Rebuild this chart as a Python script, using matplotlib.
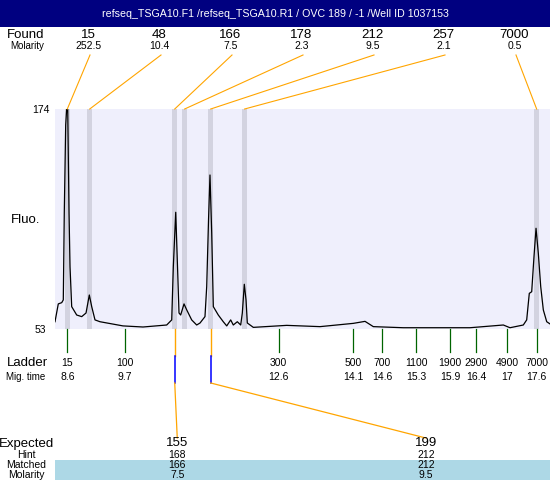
import matplotlib
matplotlib.use('Agg')
import matplotlib.pyplot as plt
from matplotlib.patches import Rectangle

plt.rcParams['font.family'] = ['Liberation Sans', 'DejaVu Sans']

title = 'refseq_TSGA10.F1 /refseq_TSGA10.R1 / OVC 189 / -1 /Well ID 1037153'

# Found peaks (size, molarity, migration time)
found_size = [15, 48, 166, 178, 212, 257, 7000]
found_molarity = [252.5, 10.4, 7.5, 2.3, 9.5, 2.1, 0.5]
found_time = [8.60, 9.03, 10.66, 10.85, 11.35, 12.00, 17.60]

# Ladder
ladder_size = [15, 100, 300, 500, 700, 1100, 1900, 2900, 4900, 7000]
ladder_time = [8.60, 9.70, 12.65, 14.08, 14.64, 15.29, 15.94, 16.44, 17.04, 17.60]
ladder_time_label = ['8.6', '9.7', '12.6', '14.1', '14.6', '15.3', '15.9', '16.4', '17', '17.6']

# Expected / matched table
expected = [155, 199]
hint = [168, 212]
matched = [166, 212]
matched_molarity = [7.5, 9.5]

# Electropherogram trace
trace_time = [8.364, 8.427, 8.493, 8.523, 8.542, 8.569, 8.588, 8.608, 8.633, 8.652,
              8.684, 8.780, 8.876, 8.959, 9.022, 9.068, 9.131, 9.227, 9.668, 10.052,
              10.506, 10.602, 10.633, 10.679, 10.709, 10.742, 10.774, 10.838, 10.890, 10.985,
              11.081, 11.145, 11.240, 11.273, 11.308, 11.336, 11.369, 11.400, 11.495, 11.591,
              11.657, 11.733, 11.783, 11.860, 11.925, 11.956, 11.994, 12.027, 12.052, 12.167,
              12.807, 13.446, 14.084, 14.309, 14.468, 15.043, 16.322, 16.961, 17.089, 17.344,
              17.409, 17.459, 17.505, 17.549, 17.588, 17.632, 17.678, 17.728, 17.793, 17.856]
trace_fluo = [57.0, 66.8, 67.5, 69.0, 116.8, 165.2, 174.0, 174.0, 116.8, 87.3,
              65.3, 60.7, 59.8, 61.8, 71.7, 65.3, 58.0, 57.0, 54.7, 54.1,
              55.2, 58.0, 87.3, 117.2, 91.0, 61.8, 60.7, 66.8, 63.5, 58.0,
              55.2, 56.3, 59.8, 76.3, 113.0, 137.7, 105.8, 65.3, 60.7, 57.0,
              54.7, 58.0, 55.2, 57.0, 55.2, 61.8, 77.6, 69.0, 56.3, 53.9,
              55.0, 54.3, 56.1, 57.2, 54.3, 53.7, 53.7, 55.2, 53.7, 55.2,
              58.0, 72.6, 73.5, 92.8, 108.4, 94.6, 76.3, 63.5, 57.0, 55.8]

y_min, y_max = 53, 174
t_min, t_max = 8.364, 17.856

W, H = 550, 480
fig = plt.figure(figsize=(W / 100, H / 100), dpi=100)

# plot box in pixels
px0, px1, py0, py1 = 55, 550, 109, 329
ax = fig.add_axes([px0 / W, (H - py1) / H, (px1 - px0) / W, (py1 - py0) / H])
ax.set_facecolor('#efeffc')
ax.set_xlim(t_min, t_max)
ax.set_ylim(y_min, y_max)
for s in ax.spines.values():
    s.set_visible(False)
ax.set_xticks([])
ax.set_yticks([])

band = 0.048
for t in found_time:
    ax.axvspan(t - band, t + band, color='#d3d3e0', lw=0)
ax.plot(trace_time, trace_fluo, color='black', lw=0.9)

# overlay in pixel coordinates (y down)
ov = fig.add_axes([0, 0, 1, 1])
ov.set_xlim(0, W)
ov.set_ylim(H, 0)
ov.axis('off')
ov.patch.set_visible(False)


def tx(t):
    disp = ax.transData.transform((t, y_min))
    return ov.transData.inverted().transform(disp)[0]


orange = '#ffa500'
green = '#006400'

# title bar
ov.add_patch(Rectangle((0, 0), W, 27, color='#000080', lw=0))
ov.text(W / 2, 14, title, color='white', fontsize=7.7, ha='center', va='center')

# found rows
ov.text(26, 35, 'Found', fontsize=9.5, ha='center', va='center')
ov.text(27, 46, 'Molarity', fontsize=7, ha='center', va='center')
slot0, slotw = 53, 497
n = len(found_size)
for i, (s, m, t) in enumerate(zip(found_size, found_molarity, found_time)):
    x = slot0 + slotw * (i + 0.5) / n
    ov.text(x, 35, str(s), fontsize=9.5, ha='center', va='center')
    ov.text(x, 46, f'{m:g}', fontsize=7.5, ha='center', va='center')
    ov.plot([x + 1.5, tx(t)], [55, py0], color=orange, lw=0.8)

# y labels
ov.text(40.5, py0 + 1, str(y_max), fontsize=7.5, ha='center', va='center')
ov.text(40.5, py1 + 1, str(y_min), fontsize=7.5, ha='center', va='center')
ov.text(26, 220, 'Fluo.', fontsize=9.5, ha='center', va='center')

# ladder
ov.text(27, 363, 'Ladder', fontsize=9.5, ha='center', va='center')
ov.text(26, 377, 'Mig. time', fontsize=7, ha='center', va='center')
for s, t, lab in zip(ladder_size, ladder_time, ladder_time_label):
    x = tx(t)
    ov.plot([x, x], [py1, 352], color=green, lw=0.9)
    ov.text(x, 363, str(s), fontsize=7.5, ha='center', va='center')
    ov.text(x, 377, lab, fontsize=7.5, ha='center', va='center')

# expected table
ov.add_patch(Rectangle((px0, 460), W - px0, 20, color='#add8e6', lw=0))
ov.text(27, 443.5, 'Expected', fontsize=9.5, ha='center', va='center')
ov.text(26.5, 455, 'Hint', fontsize=7.5, ha='center', va='center')
ov.text(26.5, 465, 'Matched', fontsize=7.5, ha='center', va='center')
ov.text(26.5, 474.5, 'Molarity', fontsize=7.5, ha='center', va='center')
k = len(expected)
for i, (e, h, m, mol) in enumerate(zip(expected, hint, matched, matched_molarity)):
    x = slot0 + slotw * (i + 0.5) / k
    p = tx(found_time[found_size.index(m)])
    ov.plot([p, p], [py1, 356], color=orange, lw=1.0)
    ov.plot([p, p], [356, 383], color='#0000ff', lw=1.1)
    ov.plot([p, x], [383, 438], color=orange, lw=0.9)
    ov.text(x, 443.5, str(e), fontsize=9.5, ha='center', va='center')
    ov.text(x, 455, str(h), fontsize=7.5, ha='center', va='center')
    ov.text(x, 465, str(m), fontsize=7.5, ha='center', va='center')
    ov.text(x, 474.5, f'{mol:g}', fontsize=7.5, ha='center', va='center')

fig.savefig('out.png', dpi=100)
